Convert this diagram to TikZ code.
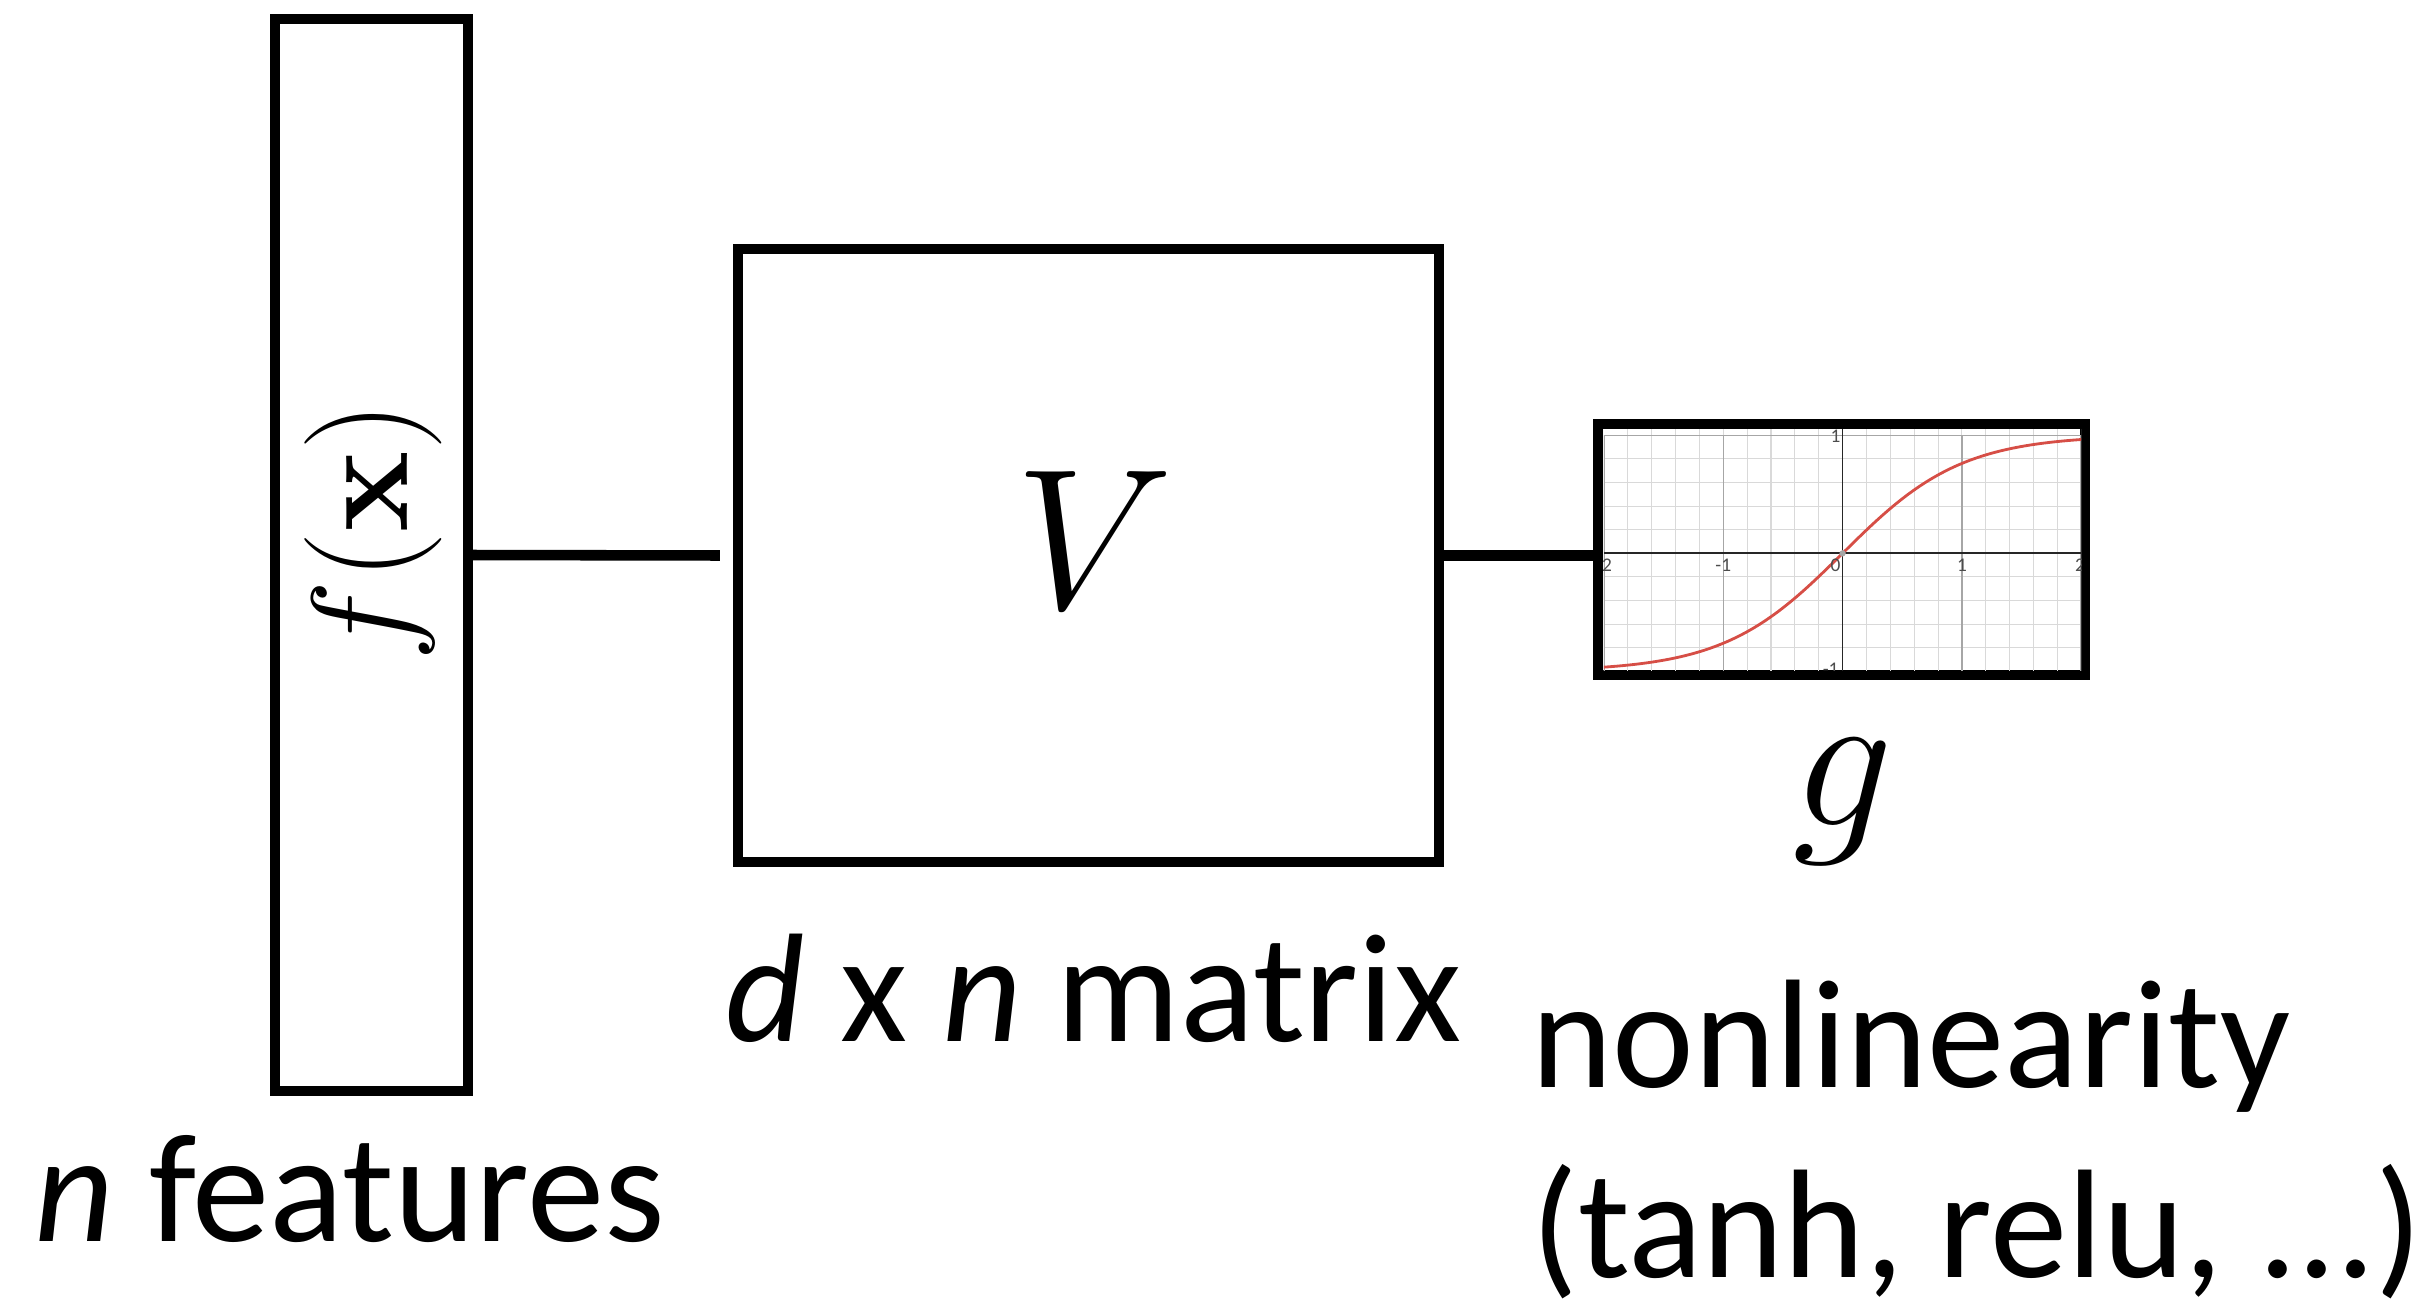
\RequirePackage{fix-cm}
\documentclass[tikz,border=0pt]{standalone}
\usepackage{amsmath}
\usepackage[no-math]{fontspec}
\setmainfont{Carlito}
\usetikzlibrary{positioning}
\definecolor{curvered}{RGB}{214,78,70}

\begin{document}
\begin{tikzpicture}[
  x=0.01cm,y=-0.01cm,
  box/.style={draw,line width=2.85pt,inner sep=0pt},
  lbl/.style={inner sep=0pt,font=\fontsize{44}{54}\selectfont},
  sym/.style={inner sep=0pt,font=\fontsize{57}{66}\selectfont},
  tick/.style={inner sep=0pt,font=\fontsize{5.5}{6}\selectfont,text=black!70}]
\useasboundingbox (0,0) rectangle (2418,1305);
\node[box,minimum width=1.93cm,minimum height=10.72cm] (feat) at (371.5,555) {};
\node[box,minimum width=7.01cm,minimum height=6.13cm] (mat) at (1088.5,555.5) {};
\node[box,minimum width=4.87cm,minimum height=2.51cm] (graph) at (1841.5,549.5) {};
\node[inner sep=0pt,rotate=90,font=\fontsize{39}{46}\selectfont] (fx) at (373,532) {$f(\mathbf{x})$};
\node[sym] (vlab) at (1095,540) {$V$};
\node[sym] (glab) at (1843,802) {$g$};
\draw[line width=3pt,shorten >=0.13cm] (feat.east) -- (mat.west);
\draw[line width=3pt] (mat.east) -- (mat.east -| graph.west);
% tanh plot inside the small box
\begin{scope}[shift={(18.415cm,-5.53cm)},x=1.1925cm,y=1.18cm]
  \clip (-2,-0.99) rectangle (2,1.05);
  \draw[black!15,line width=0.3pt] (-2,-1.2) grid[step=0.2] (2,1.2);
  \draw[black!35,line width=0.4pt] (-2,-1) grid[step=1] (2,1);
  \draw[black!85,line width=0.5pt] (-2,0) -- (2,0);
  \draw[black!85,line width=0.5pt] (0,-1.2) -- (0,1.2);
  \draw[curvered,line width=0.8pt,domain=-2.05:2.05,samples=80] plot (\x,{tanh(\x)});
  \fill[black!35] (0,0) circle (0.9pt);
  \node[tick] (t1) at (-1,-0.1) {-1};
  \node[tick] (t2) at (-0.06,-0.1) {0};
  \node[tick] (t3) at (1,-0.1) {1};
  \node[tick] (t4) at (1.99,-0.1) {2};
  \node[tick] (t5) at (-2.0,-0.1) {-2};
  \node[tick] (t6) at (-0.06,0.99) {1};
  \node[tick] (t7) at (-0.1,-0.98) {-1};
\end{scope}
\node[lbl,anchor=base west] (nfeat) at (34,1241) {\textit{n} features};
\node[lbl,anchor=base west] (dims) at (725,1041) {\textit{d} x \textit{n} matrix};
\node[lbl,anchor=base west,align=left] (nonlin) at (1531,1277) {nonlinearity\\(tanh, relu, ...)};
\end{tikzpicture}
\end{document}
